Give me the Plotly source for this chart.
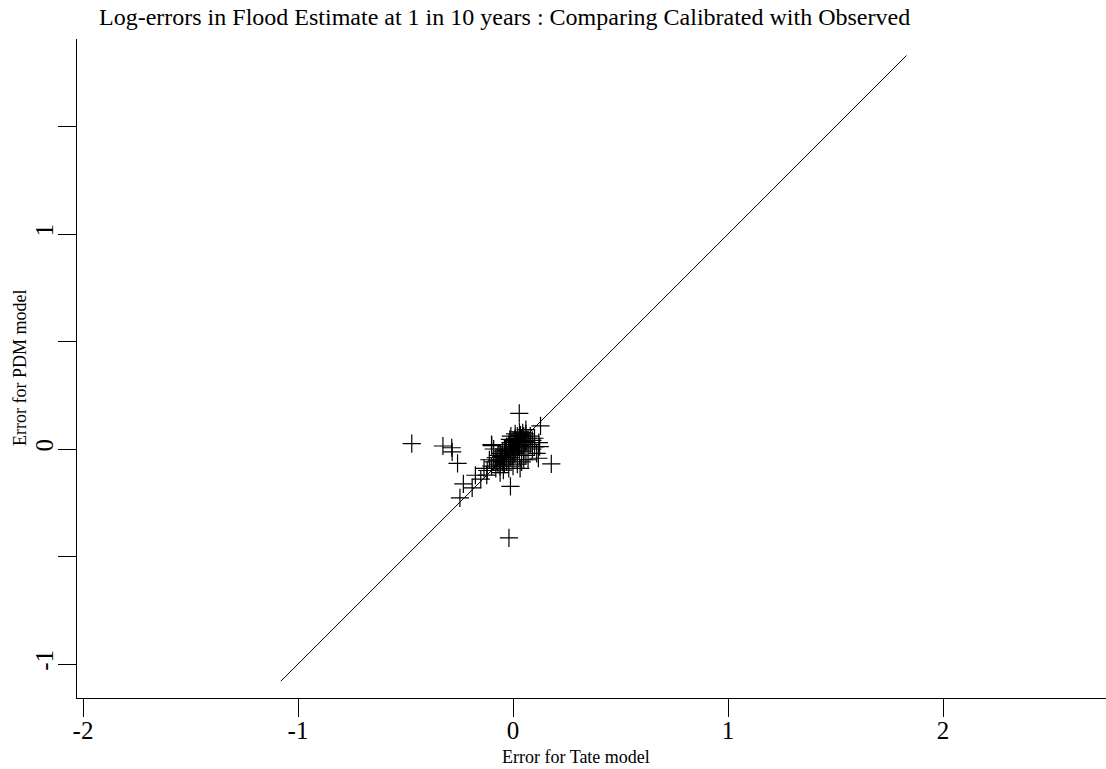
import plotly.graph_objects as go

# Outlying points (Tate error, PDM error)
outlier_x = [-0.471, 0.029, 0.128, -0.326, -0.285, -0.283, -0.258, 0.178, -0.175, -0.231,
             -0.190, -0.247, -0.012, -0.019, -0.099, -0.122, 0.118, 0.124, 0.033, -0.045]
outlier_y = [0.025, 0.166, 0.108, 0.014, 0.006, -0.013, -0.067, -0.069, -0.122, -0.162,
             -0.181, -0.227, -0.174, -0.413, 0.016, -0.121, -0.043, 0.011, -0.090, -0.098]

# Dense central cluster
core_x = [-0.09, -0.08, -0.07, -0.07, -0.06, -0.06, -0.06, -0.05, -0.05, -0.05,
          -0.04, -0.04, -0.04, -0.04, -0.03, -0.03, -0.03, -0.03, -0.02, -0.02,
          -0.02, -0.02, -0.01, -0.01, -0.01, -0.01, 0.00, 0.00, 0.00, 0.00,
          0.01, 0.01, 0.01, 0.01, 0.02, 0.02, 0.02, 0.02, 0.03, 0.03,
          0.03, 0.03, 0.04, 0.04, 0.04, 0.05, 0.05, 0.05, 0.06, 0.06,
          0.07, 0.07, 0.08, 0.08, 0.09, 0.10, 0.10, -0.08, -0.10, -0.11,
          -0.12, -0.135, -0.09, -0.10, 0.05, 0.06, 0.04, 0.02, 0.00, -0.02,
          0.09, 0.11, 0.12, 0.03, 0.01, -0.01, 0.06, -0.15, -0.06, 0.07,
          -0.075, 0.015, 0.035, -0.035, 0.045, -0.015, 0.025, -0.055, 0.055, 0.005]
core_y = [-0.06, -0.04, -0.07, -0.03, -0.05, -0.02, -0.08, -0.04, -0.01, -0.06,
          -0.03, 0.00, -0.05, -0.07, -0.02, 0.01, -0.04, -0.06, -0.01, 0.02,
          -0.03, -0.05, 0.00, 0.03, -0.02, -0.04, 0.01, 0.04, -0.01, -0.03,
          0.02, 0.05, 0.00, -0.02, 0.03, 0.01, -0.01, 0.06, 0.04, 0.02,
          0.00, -0.03, 0.05, 0.03, 0.01, 0.06, 0.02, -0.01, 0.04, 0.07,
          0.03, 0.05, 0.06, 0.02, 0.04, 0.01, 0.05, -0.09, -0.08, -0.05,
          -0.10, -0.09, 0.00, 0.02, -0.05, -0.03, -0.06, -0.07, -0.08, -0.09,
          0.00, -0.02, 0.03, 0.08, 0.07, 0.06, 0.09, -0.14, -0.11, -0.05,
          -0.055, 0.035, 0.065, -0.005, 0.075, 0.045, 0.015, -0.035, 0.035, -0.015]

line_x = [-1.08, 1.83]
line_y = [-1.08, 1.83]

x_ticks = [-2, -1, 0, 1, 2]
x_ticktext = ["-2", "-1", "0", "1", "2"]
y_ticks = [-1, -0.5, 0, 0.5, 1, 1.5]
y_ticktext = ["-1", "", "0", "", "1", ""]

serif = "Liberation Serif"

fig = go.Figure()
fig.add_trace(go.Scatter(x=line_x, y=line_y, mode="lines",
                         line=dict(color="black", width=1), showlegend=False))
fig.add_trace(go.Scatter(x=core_x + outlier_x, y=core_y + outlier_y, mode="markers",
                         marker=dict(symbol="cross-thin", size=13,
                                     line=dict(color="black", width=1.2)),
                         showlegend=False))

fig.update_layout(
    width=1106, height=769,
    margin=dict(l=77, r=0, t=39, b=71),
    paper_bgcolor="white", plot_bgcolor="white",
    title=dict(text="Log-errors in Flood Estimate at 1 in 10 years : Comparing Calibrated with Observed",
               xref="container", yref="container", x=99/1106, xanchor="left",
               y=1 - 17/769, yanchor="middle",
               font=dict(family=serif, size=24, color="black")),
    xaxis=dict(range=[-2.028, 2.758], showgrid=False, zeroline=False,
               showline=True, linecolor="black", linewidth=1,
               ticks="outside", ticklen=18, tickcolor="black", tickwidth=1,
               tickvals=x_ticks, ticktext=x_ticktext, ticklabelstandoff=-8,
               tickfont=dict(family=serif, size=25, color="black")),
    yaxis=dict(range=[-1.158, 1.907], showgrid=False, zeroline=False,
               showline=True, linecolor="black", linewidth=1,
               ticks="outside", ticklen=18, tickcolor="black", tickwidth=1,
               tickvals=y_ticks, ticktext=y_ticktext, tickangle=-90, ticklabelstandoff=-5,
               tickfont=dict(family=serif, size=25, color="black")),
    annotations=[
        dict(text="Error for Tate model", xref="paper", yref="paper",
             x=(576 - 77) / 1029, y=-(757 - 698) / 659, xanchor="center", yanchor="middle",
             showarrow=False, font=dict(family=serif, size=18, color="black")),
        dict(text="Error for PDM model", xref="paper", yref="paper",
             x=-(77 - 20) / 1029, y=(698 - 368) / 659, xanchor="center", yanchor="middle",
             textangle=-90, showarrow=False, font=dict(family=serif, size=18, color="black")),
    ],
)

fig.write_html("out.html")
